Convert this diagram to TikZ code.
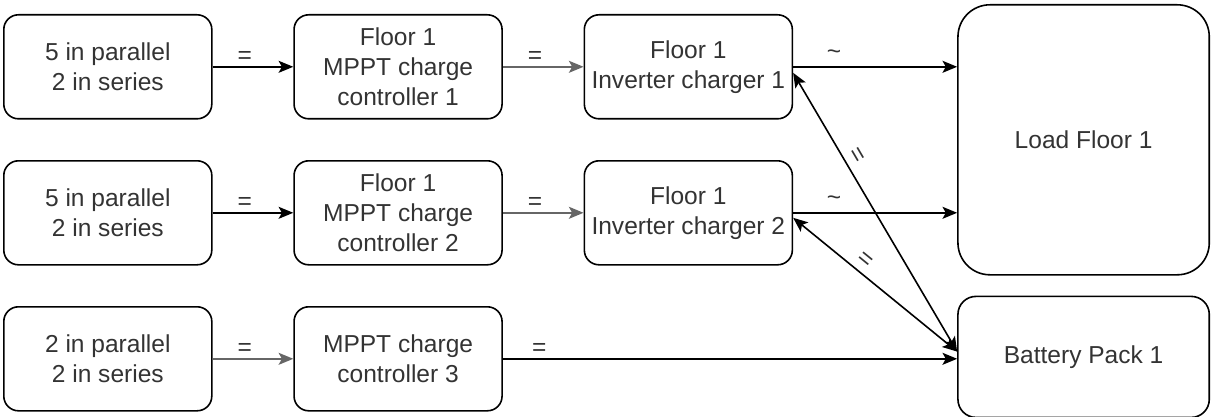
\documentclass[tikz,border=0pt]{standalone}
\usepackage{fontspec}
\setmainfont{Liberation Sans}
\usetikzlibrary{arrows.meta,positioning}

\begin{document}
\begin{tikzpicture}[
  node distance=30.3pt and 60.5pt,
  every node/.style={font=\fontsize{18.4}{22.5}\selectfont, text=black!80},
  unit/.style={draw, line width=1.2pt, rounded corners=11pt, align=center, minimum width=156pt, minimum height=78pt, inner sep=0pt},
  bigunit/.style={draw, line width=1.2pt, align=center, minimum width=188.5pt, inner sep=0pt},
  arrow/.style={-{Stealth[length=11pt,width=9pt,inset=2.5pt]}, line width=1.2pt},
  duplex/.style={{Stealth[length=11pt,width=9pt,inset=2.5pt]}-{Stealth[length=11pt,width=9pt,inset=2.5pt]}, line width=1.2pt},
  lbl/.style={above, inner sep=2pt},
  acl/.style={above, inner sep=5pt},
  slbl/.style={above, sloped, inner sep=4.5pt}
]
\useasboundingbox (0,0) rectangle (909pt,-312.75pt);

\node[unit, anchor=north west] (pv1) at (2.25pt,-10.5pt) {5 in parallel\\2 in series};
\node[unit, below=of pv1] (pv2) {5 in parallel\\2 in series};
\node[unit, below=of pv2] (pv3) {2 in parallel\\2 in series};

\node[unit, right=of pv1] (mppt1) {Floor 1\\MPPT charge\\controller 1};
\node[unit, right=of pv2] (mppt2) {Floor 1\\MPPT charge\\controller 2};
\node[unit, right=of pv3] (mppt3) {MPPT charge\\controller 3};

\node[unit, right=of mppt1] (inv1) {Floor 1\\Inverter charger 1};
\node[unit, right=of mppt2] (inv2) {Floor 1\\Inverter charger 2};

\node[bigunit, rounded corners=24pt, minimum height=202.5pt, anchor=north west] (load)
  at ([xshift=123pt, yshift=7.5pt]inv1.north east) {Load Floor 1};
\node[bigunit, rounded corners=13.5pt, minimum height=90.75pt, below=15pt of load] (bat) {Battery Pack 1};

% panels to controllers
\draw[arrow] (pv1) -- node[lbl, pos=0.4] {=} (mppt1);
\draw[arrow] (pv2) -- node[lbl, pos=0.4] {=} (mppt2);
\draw[arrow, draw=black!60] (pv3) -- node[lbl, pos=0.4] {=} (mppt3);

% controllers to inverters / battery
\draw[arrow, draw=black!60] (mppt1) -- node[lbl, pos=0.4] {=} (inv1);
\draw[arrow, draw=black!60] (mppt2) -- node[lbl, pos=0.4] {=} (inv2);
\draw[arrow] (mppt3.east) -- node[lbl, pos=0.08] {=} (mppt3.east -| bat.west);

% inverters to load
\draw[arrow] (inv1.east) -- node[acl, pos=0.25] {\textasciitilde} (inv1.east -| load.west);
\draw[arrow] (inv2.east) -- node[acl, pos=0.25] {\textasciitilde} (inv2.east -| load.west);

% battery links
\coordinate (batin) at ([yshift=4pt]bat.west);
\coordinate (inv1in) at ([yshift=-4.5pt]inv1.east);
\coordinate (inv2in) at ([yshift=-3.75pt]inv2.east);
\draw[duplex] (batin) -- node[slbl, pos=0.68] {=} (inv1in);
\draw[duplex] (batin) -- node[slbl, pos=0.61] {=} (inv2in);
\end{tikzpicture}
\end{document}
